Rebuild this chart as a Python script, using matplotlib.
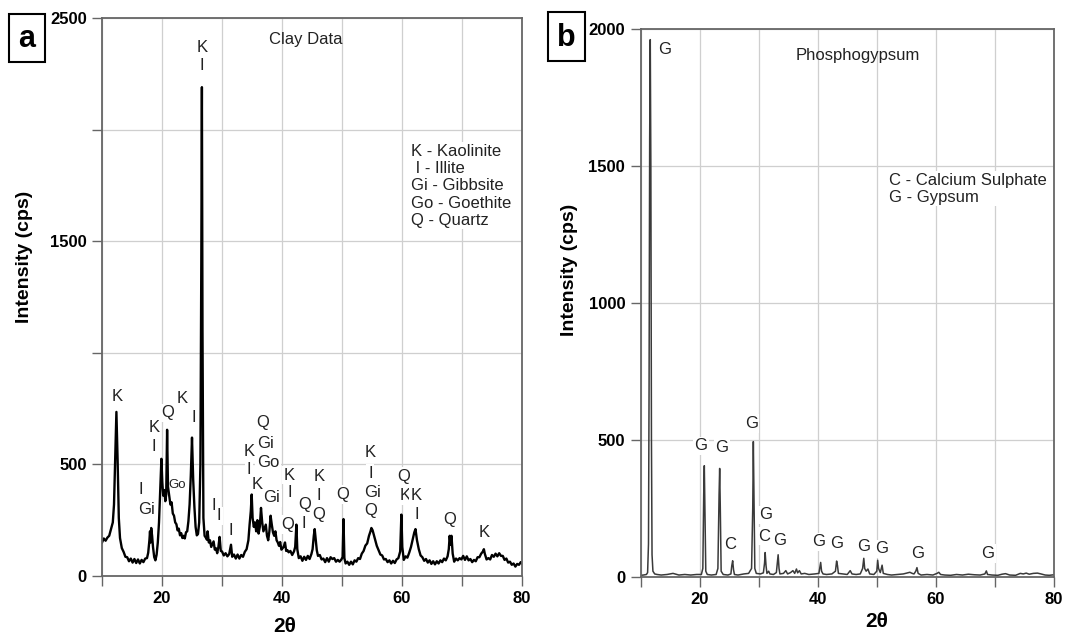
"""XRD patterns of the clay and the phosphogypsum samples, side by side."""

import matplotlib

matplotlib.use("Agg")
import matplotlib.pyplot as plt
from matplotlib.patches import Rectangle

plt.rcParams["font.family"] = ["Liberation Sans", "DejaVu Sans"]

# ---- panel a: clay (2theta, intensity in cps) ----
CLAY_2THETA = [
    10.0, 10.3, 10.6, 10.9, 11.2, 11.5, 11.8, 12.0, 12.2, 12.4, 12.6, 12.8, 13.0, 13.3,
    13.6, 13.9, 14.2, 14.5, 14.8, 15.1, 15.4, 15.7, 16.0, 16.3, 16.6, 16.9, 17.2, 17.5,
    17.7, 17.9, 18.0, 18.1, 18.2, 18.35, 18.5, 18.7, 18.9, 19.1, 19.3, 19.5, 19.7, 19.9,
    20.05, 20.2, 20.4, 20.55, 20.7, 20.85, 21.0, 21.2, 21.4, 21.6, 21.8, 22.0, 22.2, 22.4,
    22.6, 22.8, 23.0, 23.2, 23.4, 23.6, 23.8, 24.0, 24.2, 24.4, 24.6, 24.8, 25.0, 25.2,
    25.4, 25.6, 25.8, 26.0, 26.2, 26.4, 26.55, 26.65, 26.75, 26.9, 27.1, 27.3, 27.5, 27.6,
    27.8, 28.0, 28.2, 28.4, 28.6, 28.8, 29.0, 29.2, 29.4, 29.6, 29.8, 30.0, 30.3, 30.6,
    30.9, 31.2, 31.5, 31.7, 32.0, 32.3, 32.6, 32.9, 33.2, 33.5, 33.8, 34.1, 34.4, 34.6,
    34.8, 34.95, 35.1, 35.3, 35.5, 35.7, 35.9, 36.1, 36.3, 36.5, 36.7, 36.9, 37.1, 37.3,
    37.5, 37.7, 37.9, 38.1, 38.3, 38.5, 38.7, 38.9, 39.1, 39.3, 39.5, 39.7, 39.9, 40.1,
    40.3, 40.5, 40.7, 40.9, 41.1, 41.4, 41.7, 42.0, 42.2, 42.4, 42.55, 42.8, 43.1, 43.4,
    43.7, 44.0, 44.3, 44.6, 44.9, 45.1, 45.3, 45.45, 45.6, 45.8, 46.0, 46.3, 46.6, 46.9,
    47.2, 47.5, 47.8, 48.1, 48.4, 48.7, 49.0, 49.3, 49.6, 49.9, 50.1, 50.25, 50.4, 50.6,
    50.9, 51.2, 51.5, 51.8, 52.1, 52.4, 52.7, 53.0, 53.3, 53.6, 53.9, 54.2, 54.5, 54.75,
    54.9, 55.1, 55.3, 55.5, 55.8, 56.1, 56.4, 56.7, 57.0, 57.3, 57.6, 57.9, 58.2, 58.5,
    58.8, 59.1, 59.4, 59.7, 59.9, 60.05, 60.3, 60.6, 60.9, 61.2, 61.5, 61.8, 62.05, 62.25,
    62.5, 62.8, 63.1, 63.4, 63.7, 64.0, 64.3, 64.6, 64.9, 65.2, 65.5, 65.8, 66.1, 66.4,
    66.7, 67.0, 67.3, 67.6, 67.8, 67.95, 68.1, 68.25, 68.45, 68.7, 69.0, 69.3, 69.6, 69.9,
    70.2, 70.5, 70.8, 71.1, 71.4, 71.7, 72.0, 72.3, 72.6, 72.9, 73.2, 73.5, 73.65, 73.8,
    74.1, 74.4, 74.7, 75.0, 75.3, 75.6, 75.9, 76.2, 76.5, 76.8, 77.1, 77.4, 77.7, 78.0,
    78.3, 78.6, 78.9, 79.2, 79.5, 79.8, 80.0,
]
CLAY_COUNTS = [
    150, 168, 158, 172, 180, 210, 240, 320, 520, 735, 520, 260, 170, 125,
    108, 86, 84, 66, 78, 60, 76, 58, 74, 56, 72, 62, 78, 80,
    104, 160, 200, 150, 215, 180, 130, 85, 70, 95, 150, 240, 380, 525,
    420, 360, 385, 335, 365, 655, 400, 360, 320, 330, 280, 270, 240, 232,
    204, 212, 182, 192, 170, 180, 168, 196, 200, 245, 320, 450, 620, 430,
    310, 220, 182, 188, 240, 500, 1400, 2190, 1100, 260, 180, 172, 162, 200,
    150, 160, 130, 142, 155, 118, 124, 102, 130, 175, 112, 110, 92, 102,
    88, 98, 140, 86, 96, 78, 96, 78, 94, 86, 108, 120, 160, 230,
    290, 365, 260, 220, 240, 200, 250, 190, 220, 305, 240, 200, 215, 230,
    180, 160, 200, 270, 230, 195, 180, 200, 160, 150, 135, 152, 118, 124,
    132, 150, 112, 116, 106, 112, 94, 110, 130, 230, 120, 80, 88, 68,
    86, 72, 90, 76, 98, 120, 180, 210, 170, 115, 90, 94, 74, 78,
    62, 80, 64, 84, 76, 80, 64, 72, 64, 74, 85, 255, 80, 56,
    64, 50, 64, 52, 70, 64, 80, 76, 100, 112, 136, 146, 180, 200,
    215, 205, 185, 165, 135, 115, 96, 92, 74, 76, 62, 70, 56, 68,
    58, 74, 80, 110, 275, 130, 72, 88, 82, 104, 130, 165, 195, 210,
    160, 120, 92, 84, 68, 76, 60, 70, 54, 66, 52, 66, 56, 70,
    62, 78, 70, 88, 120, 180, 140, 180, 100, 64, 78, 70, 80, 74,
    90, 72, 88, 70, 76, 62, 72, 66, 84, 84, 100, 110, 120, 100,
    74, 80, 74, 94, 86, 100, 88, 102, 90, 90, 72, 78, 60, 64,
    50, 56, 42, 54, 50, 62, 56,
]

CLAY_PEAK_LABELS = [
    ("K", 12.45, 805), ("K", 18.7, 664), ("I", 18.7, 580), ("Q", 20.9, 731),
    ("K", 23.35, 795), ("I", 25.3, 708), ("I", 16.4, 388), ("Gi", 17.4, 299),
    ("I", 28.6, 315), ("I", 29.5, 269), ("I", 31.4, 202),
    ("K", 34.5, 556), ("I", 34.5, 478), ("K", 35.85, 410),
    ("Q", 36.8, 686), ("Gi", 37.2, 595), ("Go", 37.65, 508), ("Gi", 38.3, 350),
    ("K", 41.25, 452), ("I", 41.3, 373), ("Q", 40.9, 230),
    ("Q", 43.71, 320), ("I", 43.6, 235),
    ("K", 46.17, 446), ("I", 46.17, 360), ("Q", 46.17, 275),
    ("Q", 50.06, 365),
    ("K", 54.74, 551), ("I", 54.74, 461), ("Gi", 55.03, 376), ("Q", 54.74, 295),
    ("Q", 60.29, 446), ("K", 60.46, 360), ("K", 62.4, 360), ("I", 62.4, 275),
    ("Q", 68.0, 253), ("K", 73.71, 193),
    ("K", 26.69, 2369), ("I", 26.69, 2287),
]
CLAY_SMALL_LABELS = [("Go", 22.5, 406)]
CLAY_LEGEND = ["K - Kaolinite", " I - Illite", "Gi - Gibbsite", "Go - Goethite", "Q - Quartz"]
CLAY_TITLE = "Clay Data"

# ---- panel b: phosphogypsum ----
PG_2THETA = [
    10.0, 10.5, 11.0, 11.2, 11.35, 11.45, 11.55, 11.65, 11.75, 11.85, 11.95, 12.1, 12.4,
    12.8, 13.5, 14.5, 15.5, 16.5, 17.5, 18.5, 19.5, 20.3, 20.55, 20.7, 20.8, 20.9, 21.05,
    21.3, 22.0, 22.8, 23.1, 23.3, 23.4, 23.5, 23.65, 24.0, 24.8, 25.3, 25.45, 25.6, 25.75,
    25.9, 26.5, 27.5, 28.3, 28.8, 29.0, 29.1, 29.2, 29.35, 29.6, 30.3, 30.8, 31.0, 31.1,
    31.25, 31.4, 31.7, 31.9, 32.5, 33.0, 33.2, 33.3, 33.45, 33.6, 34.2, 34.6, 34.9, 35.4,
    35.8, 36.1, 36.4, 36.6, 36.9, 37.2, 37.8, 38.5, 39.5, 40.2, 40.4, 40.5, 40.65, 40.9,
    41.5, 42.4, 43.0, 43.2, 43.35, 43.5, 44.2, 45.0, 45.5, 45.8, 46.5, 47.2, 47.6, 47.8,
    47.95, 48.2, 48.5, 48.8, 49.5, 50.0, 50.15, 50.3, 50.6, 50.9, 51.1, 51.8, 52.5, 53.5,
    54.5, 55.2, 55.6, 56.0, 56.3, 56.6, 56.8, 57.0, 57.5, 58.5, 59.5, 60.2, 60.5, 60.8,
    61.5, 62.5, 63.5, 64.5, 65.5, 66.5, 67.5, 68.3, 68.55, 68.75, 69.5, 70.5, 71.2, 71.8,
    72.5, 73.5, 74.3, 74.8, 75.3, 75.8, 76.5, 77.2, 77.8, 78.5, 79.2, 80.0,
]
PG_COUNTS = [
    5, 6, 8, 15, 120, 700, 1600, 1960, 1500, 500, 80, 20, 10,
    8, 6, 8, 12, 6, 8, 6, 8, 8, 30, 300, 405, 250, 20,
    8, 6, 8, 30, 300, 395, 260, 20, 8, 6, 10, 40, 58, 25,
    8, 6, 10, 12, 30, 250, 493, 300, 30, 12, 10, 14, 50, 88,
    40, 12, 20, 10, 8, 15, 60, 80, 30, 10, 12, 22, 10, 15,
    22, 12, 28, 14, 22, 10, 12, 8, 10, 12, 40, 52, 20, 10,
    8, 10, 20, 57, 40, 12, 10, 8, 22, 10, 8, 10, 30, 67,
    30, 20, 28, 10, 8, 20, 60, 30, 15, 42, 12, 8, 6, 8,
    10, 14, 16, 12, 10, 20, 33, 12, 6, 8, 6, 12, 16, 8,
    6, 5, 8, 6, 9, 7, 6, 10, 21, 8, 6, 5, 9, 11,
    6, 5, 12, 10, 13, 9, 12, 13, 10, 6, 5, 7,
]

PG_PEAK_LABELS = [
    ("G", 14.0, 1925), ("G", 20.2, 478), ("G", 23.75, 472), ("C", 25.2, 119),
    ("G", 28.75, 559), ("G", 31.1, 226), ("C", 31.0, 148), ("G", 33.6, 133),
    ("G", 40.2, 127), ("G", 43.2, 121), ("G", 47.7, 111), ("G", 50.9, 102),
    ("G", 56.9, 85), ("G", 68.75, 85),
]
PG_LEGEND = ["C - Calcium Sulphate", "G - Gypsum"]
PG_TITLE = "Phosphogypsum"

X_TICKS = [10, 20, 30, 40, 50, 60, 70, 80]
X_TICK_LABELS = ["", "20", "", "40", "", "60", "", "80"]
CLAY_Y_TICKS = [0, 500, 1000, 1500, 2000, 2500]
CLAY_Y_TICK_LABELS = ["0", "500", "", "1500", "", "2500"]
PG_Y_TICKS = [0, 500, 1000, 1500, 2000]
PG_Y_TICK_LABELS = ["0", "500", "1000", "1500", "2000"]

TEXT_COLOR = "#222222"
GRID_COLOR = "#cfcfcf"
SPINE_COLOR = "#666666"


def style_axes(ax, yticks, yticklabels, ymax):
    ax.set_xlim(10, 80)
    ax.set_ylim(0, ymax)
    ax.set_xticks(X_TICKS)
    ax.set_xticklabels(X_TICK_LABELS)
    ax.set_yticks(yticks)
    ax.set_yticklabels(yticklabels)
    ax.grid(True, color=GRID_COLOR, linewidth=0.9, zorder=0.5)
    ax.set_axisbelow(True)
    ax.tick_params(direction="out", length=7, width=1.0, color=SPINE_COLOR,
                   labelsize=12, pad=4)
    for label in ax.get_xticklabels() + ax.get_yticklabels():
        label.set_fontweight("bold")
    for spine in ax.spines.values():
        spine.set_color(SPINE_COLOR)
        spine.set_linewidth(1.3)


def put_labels(ax, labels, size):
    for text, x, y in labels:
        ax.text(x, y, text, ha="center", va="center", fontsize=size, color=TEXT_COLOR,
                zorder=1.5,
                bbox=dict(boxstyle="square,pad=0.1", facecolor="white", edgecolor="none"))


def panel_tag(fig, letter, x0, y0):
    fig.patches.append(Rectangle((x0, y0), 0.034, 0.076, transform=fig.transFigure,
                                 fill=False, edgecolor="black", linewidth=1.5))
    fig.text(x0 + 0.017, y0 + 0.036, letter, ha="center", va="center",
             fontsize=22, fontweight="bold")


fig = plt.figure(figsize=(10.67, 6.37), dpi=100)

# panel a
ax_a = fig.add_axes([0.0956, 0.0958, 0.3936, 0.876])
style_axes(ax_a, CLAY_Y_TICKS, CLAY_Y_TICK_LABELS, 2500)
ax_a.plot(CLAY_2THETA, CLAY_COUNTS, color="black", linewidth=1.7, zorder=2)
put_labels(ax_a, CLAY_PEAK_LABELS, 12)
put_labels(ax_a, CLAY_SMALL_LABELS, 9.5)
ax_a.text(43.9, 2402, CLAY_TITLE, ha="center", va="center", fontsize=12, color=TEXT_COLOR)
ax_a.text(61.5, 1935, "\n".join(CLAY_LEGEND), ha="left", va="top", fontsize=12,
          color=TEXT_COLOR, linespacing=1.18,
          bbox=dict(boxstyle="square,pad=0.1", facecolor="white", edgecolor="none"))
ax_a.text(-0.185, 0.571, "Intensity (cps)", transform=ax_a.transAxes, rotation=90,
          ha="center", va="center", fontsize=14, fontweight="bold")
ax_a.text(0.435, -0.090, "2θ", transform=ax_a.transAxes, ha="center", va="center",
          fontsize=15, fontweight="bold")

# panel b
ax_b = fig.add_axes([0.6003, 0.0947, 0.3875, 0.8603])
style_axes(ax_b, PG_Y_TICKS, PG_Y_TICK_LABELS, 2000)
ax_b.plot(PG_2THETA, PG_COUNTS, color="#3a3a3a", linewidth=1.1, zorder=2)
put_labels(ax_b, PG_PEAK_LABELS, 12)
ax_b.text(46.8, 1903, PG_TITLE, ha="center", va="center", fontsize=12, color=TEXT_COLOR)
ax_b.text(52.0, 1475, "\n".join(PG_LEGEND), ha="left", va="top", fontsize=12,
          color=TEXT_COLOR, linespacing=1.18,
          bbox=dict(boxstyle="square,pad=0.1", facecolor="white", edgecolor="none"))
ax_b.text(-0.172, 0.56, "Intensity (cps)", transform=ax_b.transAxes, rotation=90,
          ha="center", va="center", fontsize=14, fontweight="bold")
ax_b.text(0.572, -0.082, "2θ", transform=ax_b.transAxes, ha="center", va="center",
          fontsize=15, fontweight="bold")

panel_tag(fig, "a", 0.0081, 0.9027)
panel_tag(fig, "b", 0.514, 0.905)

fig.savefig("out.png", dpi=100)
